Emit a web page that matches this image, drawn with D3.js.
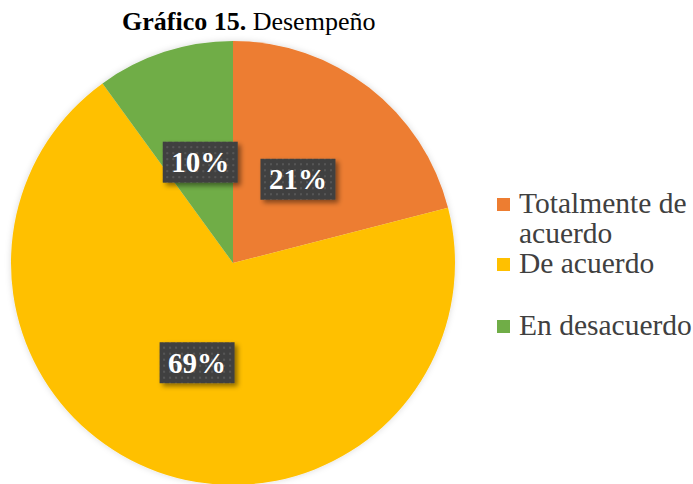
<!DOCTYPE html>
<html><head><meta charset="utf-8">
<script src="https://cdn.jsdelivr.net/npm/d3@7"></script>
<style>body{margin:0;background:#fff;} svg{display:block;}</style>
</head><body>
<svg id="c" width="693" height="484"></svg>
<script>
const categories = ["Totalmente de acuerdo", "De acuerdo", "En desacuerdo"];
const values = [21, 69, 10];
const labels = ["21%", "69%", "10%"];
const colors = ["#ED7D31", "#FFC000", "#70AD47"];
const legendLines = [["Totalmente de", "acuerdo"], ["De acuerdo"], ["En desacuerdo"]];

const svg = d3.select("#c");
const defs = svg.append("defs");
const pat = defs.append("pattern").attr("id","dots").attr("patternUnits","userSpaceOnUse")
  .attr("width",6).attr("height",6);
pat.append("rect").attr("width",6).attr("height",6).attr("fill","#404040");
pat.append("rect").attr("x",2).attr("y",2).attr("width",2).attr("height",2).attr("fill","#575757");
const f = defs.append("filter").attr("id","sh").attr("x","-20%").attr("y","-20%").attr("width","150%").attr("height","160%");
f.append("feDropShadow").attr("dx",3).attr("dy",3).attr("stdDeviation",2.5).attr("flood-color","#000").attr("flood-opacity",0.45);
const f2 = defs.append("filter").attr("id","psh").attr("x","-10%").attr("y","-10%").attr("width","120%").attr("height","120%");
f2.append("feDropShadow").attr("dx",0).attr("dy",0).attr("stdDeviation",3).attr("flood-color","#000").attr("flood-opacity",0.15);

const serif = "'Liberation Serif','Times New Roman',Times,serif";
// title
const t = svg.append("text").attr("x",122).attr("y",30)
  .attr("font-family",serif).attr("font-size",26).attr("fill","#000");
t.append("tspan").attr("font-weight","bold").text("Gráfico 15.");
t.append("tspan").text(" Desempeño");

const cx = 233, cy = 263, R = 222;
const pie = d3.pie().sort(null).value(d => d);
const arcs = pie(values);
const arc = d3.arc().innerRadius(0).outerRadius(R);
const labelArc = d3.arc().innerRadius(106).outerRadius(106);
const g = svg.append("g").attr("transform",`translate(${cx},${cy})`);
g.append("g").attr("filter","url(#psh)").selectAll("path").data(arcs).join("path")
  .attr("d",arc).attr("fill",(d,i)=>colors[i]);

const bw = 75, bh = 41;
const lg = g.selectAll("g.lbl").data(arcs).join("g").attr("class","lbl")
  .attr("transform",d=>{const c=labelArc.centroid(d);return `translate(${c[0]},${c[1]})`;});
lg.append("rect").attr("x",-bw/2).attr("y",-bh/2).attr("width",bw).attr("height",bh)
  .attr("fill","url(#dots)").attr("filter","url(#sh)");
lg.append("text").attr("text-anchor","middle").attr("y",10)
  .attr("font-family",serif).attr("font-weight","bold")
  .attr("font-size",29).attr("fill","#fff").text((d,i)=>labels[i]);

// legend
const legY = [198, 258, 320];
const leg = svg.append("g");
categories.forEach((c,i)=>{
  leg.append("rect").attr("x",497).attr("y",legY[i]).attr("width",13).attr("height",13).attr("fill",colors[i]);
  const tx = leg.append("text").attr("x",519).attr("y",legY[i]+15)
    .attr("font-family",serif).attr("font-size",29.5).attr("fill","#404040");
  legendLines[i].forEach((l,j)=>tx.append("tspan").attr("x",519).attr("dy",j===0?0:30).text(l));
});
</script>
</body></html>
